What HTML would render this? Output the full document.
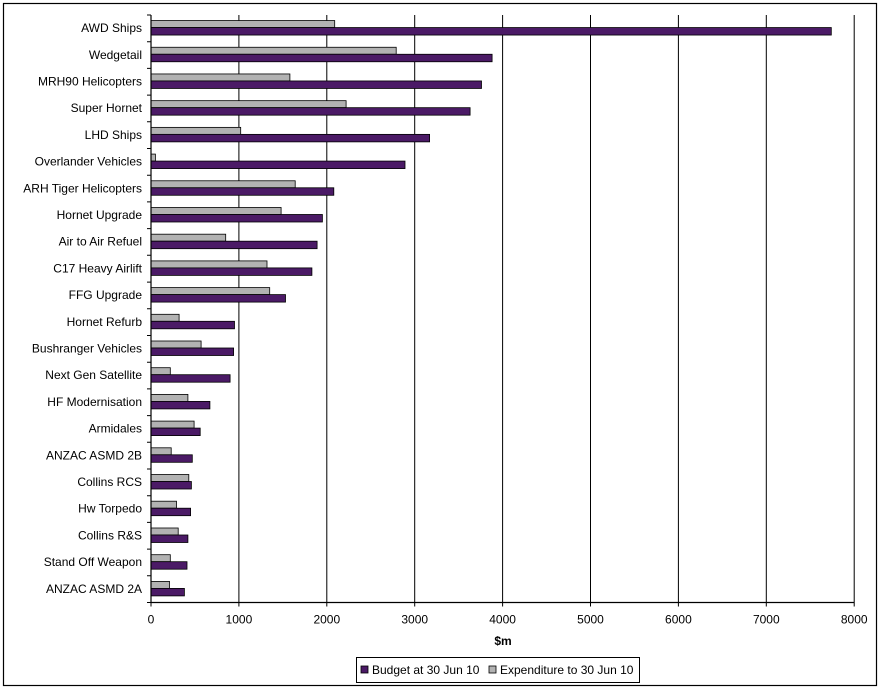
<!DOCTYPE html>
<html><head><style>body{margin:0;background:#fff}svg{display:block;font-family:"Liberation Sans",Arial,sans-serif}</style></head><body>
<svg width="882" height="690" xmlns="http://www.w3.org/2000/svg">
<rect x="3.5" y="3.5" width="873" height="682" fill="#fff" stroke="#000" stroke-width="1.2"/>
<g stroke="#000" stroke-width="1">
<path d="M238.9 15V602.5M326.8 15V602.5M414.7 15V602.5M502.6 15V602.5M590.5 15V602.5M678.4 15V602.5M766.3 15V602.5M854.2 15V602.5"/>
<path d="M151 602.5v4M238.9 602.5v4M326.8 602.5v4M414.7 602.5v4M502.6 602.5v4M590.5 602.5v4M678.4 602.5v4M766.3 602.5v4M854.2 602.5v4"/>
<path d="M147 15h4M147 41.7h4M147 68.4h4M147 95.1h4M147 121.8h4M147 148.5h4M147 175.2h4M147 201.9h4M147 228.6h4M147 255.3h4M147 282.1h4M147 308.8h4M147 335.5h4M147 362.2h4M147 388.9h4M147 415.6h4M147 442.3h4M147 469h4M147 495.7h4M147 522.4h4M147 549.1h4M147 575.8h4M147 602.5h4"/>
</g>
<g font-size="12" text-anchor="middle">
<text x="151" y="623.5">0</text><text x="238.9" y="623.5">1000</text><text x="326.8" y="623.5">2000</text><text x="414.7" y="623.5">3000</text><text x="502.6" y="623.5">4000</text><text x="590.5" y="623.5">5000</text><text x="678.4" y="623.5">6000</text><text x="766.3" y="623.5">7000</text><text x="854.2" y="623.5">8000</text>
</g>
<g stroke="#000" stroke-width="0.8">
<g fill="#b2b2b2">
<rect x="151" y="20.55" width="183.7" height="7"/>
<rect x="151" y="47.26" width="245.2" height="7"/>
<rect x="151" y="73.96" width="138.9" height="7"/>
<rect x="151" y="100.67" width="195.1" height="7"/>
<rect x="151" y="127.37" width="89.7" height="7"/>
<rect x="151" y="154.08" width="4.4" height="7"/>
<rect x="151" y="180.78" width="144.2" height="7"/>
<rect x="151" y="207.49" width="130.1" height="7"/>
<rect x="151" y="234.19" width="74.7" height="7"/>
<rect x="151" y="260.9" width="116" height="7"/>
<rect x="151" y="287.6" width="118.7" height="7"/>
<rect x="151" y="314.3" width="28.1" height="7"/>
<rect x="151" y="341" width="50.1" height="7"/>
<rect x="151" y="367.7" width="19.3" height="7"/>
<rect x="151" y="394.4" width="36.9" height="7"/>
<rect x="151" y="421.1" width="43.1" height="7"/>
<rect x="151" y="447.8" width="20.2" height="7"/>
<rect x="151" y="474.5" width="37.8" height="7"/>
<rect x="151" y="501.2" width="25.5" height="7"/>
<rect x="151" y="528" width="27.2" height="7"/>
<rect x="151" y="554.7" width="19.3" height="7"/>
<rect x="151" y="581.4" width="18.5" height="7"/>
</g>
<g fill="#4b1a66">
<rect x="151" y="27.55" width="680.3" height="7.5"/>
<rect x="151" y="54.26" width="341.1" height="7.5"/>
<rect x="151" y="80.96" width="330.5" height="7.5"/>
<rect x="151" y="107.67" width="319.1" height="7.5"/>
<rect x="151" y="134.37" width="278.6" height="7.5"/>
<rect x="151" y="161.08" width="254" height="7.5"/>
<rect x="151" y="187.78" width="182.8" height="7.5"/>
<rect x="151" y="214.49" width="171.4" height="7.5"/>
<rect x="151" y="241.19" width="166.1" height="7.5"/>
<rect x="151" y="267.9" width="160.9" height="7.5"/>
<rect x="151" y="294.6" width="134.5" height="7.5"/>
<rect x="151" y="321.3" width="83.5" height="7.5"/>
<rect x="151" y="348" width="82.6" height="7.5"/>
<rect x="151" y="374.7" width="79.1" height="7.5"/>
<rect x="151" y="401.4" width="58.9" height="7.5"/>
<rect x="151" y="428.1" width="49.2" height="7.5"/>
<rect x="151" y="454.8" width="41.3" height="7.5"/>
<rect x="151" y="481.5" width="40.4" height="7.5"/>
<rect x="151" y="508.2" width="39.6" height="7.5"/>
<rect x="151" y="535" width="36.9" height="7.5"/>
<rect x="151" y="561.7" width="36" height="7.5"/>
<rect x="151" y="588.4" width="33.4" height="7.5"/>
</g>
</g>
<g font-size="12" text-anchor="end">
<text x="142" y="32">AWD Ships</text>
<text x="142" y="58.8">Wedgetail</text>
<text x="142" y="85.5">MRH90 Helicopters</text>
<text x="142" y="112.2">Super Hornet</text>
<text x="142" y="138.9">LHD Ships</text>
<text x="142" y="165.6">Overlander Vehicles</text>
<text x="142" y="192.3">ARH Tiger Helicopters</text>
<text x="142" y="219">Hornet Upgrade</text>
<text x="142" y="245.7">Air to Air Refuel</text>
<text x="142" y="272.4">C17 Heavy Airlift</text>
<text x="142" y="299.1">FFG Upgrade</text>
<text x="142" y="325.8">Hornet Refurb</text>
<text x="142" y="352.5">Bushranger Vehicles</text>
<text x="142" y="379.2">Next Gen Satellite</text>
<text x="142" y="405.9">HF Modernisation</text>
<text x="142" y="432.6">Armidales</text>
<text x="142" y="459.3">ANZAC ASMD 2B</text>
<text x="142" y="486">Collins RCS</text>
<text x="142" y="512.7">Hw Torpedo</text>
<text x="142" y="539.5">Collins R&amp;S</text>
<text x="142" y="566.2">Stand Off Weapon</text>
<text x="142" y="592.9">ANZAC ASMD 2A</text>
</g>
<path d="M151 15V602.5H854.2" fill="none" stroke="#000" stroke-width="1.2"/>
<text x="503" y="645" font-size="12" font-weight="bold" text-anchor="middle">$m</text>
<rect x="356.5" y="657.5" width="283" height="25" fill="#fff" stroke="#000"/>
<rect x="361" y="666" width="7" height="7" fill="#4b1a66" stroke="#000" stroke-width="0.8"/>
<text x="372" y="674" font-size="12">Budget at 30 Jun 10</text>
<rect x="489" y="666" width="7" height="7" fill="#b2b2b2" stroke="#000" stroke-width="0.8"/>
<text x="500" y="674" font-size="12">Expenditure to 30 Jun 10</text>
</svg>
</body></html>
